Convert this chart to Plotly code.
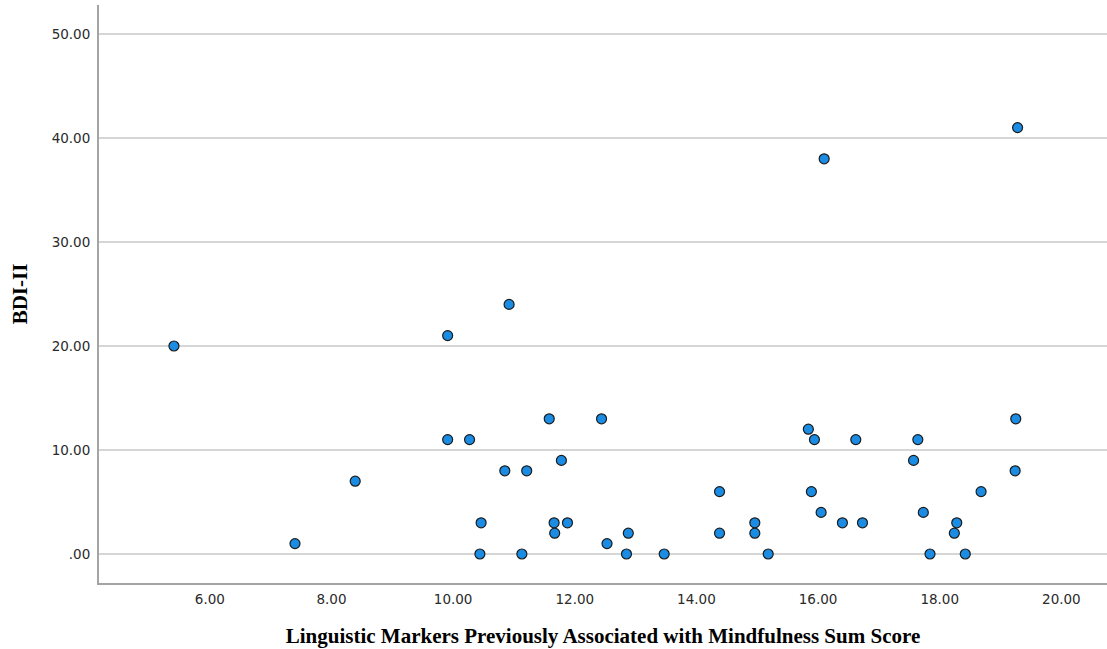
import plotly.graph_objects as go

mindfulness_score = [5.41, 7.40, 8.39, 9.91, 9.91, 10.27, 10.92, 11.58, 12.44, 11.78,
                     10.85, 11.21, 14.38, 10.46, 11.66, 11.88, 11.67, 12.88, 12.53, 10.44,
                     11.13, 12.85, 13.47, 14.38, 14.96, 14.96, 15.18, 15.84, 15.94, 16.62,
                     17.64, 17.57, 19.25, 19.24, 18.68, 15.89, 16.05, 17.73, 16.40, 16.73,
                     18.28, 18.24, 17.84, 18.42, 19.28, 16.10]
bdi_ii = [20, 1, 7, 21, 11, 11, 24, 13, 13, 9,
          8, 8, 6, 3, 3, 3, 2, 2, 1, 0,
          0, 0, 0, 2, 3, 2, 0, 12, 11, 11,
          11, 9, 13, 8, 6, 6, 4, 4, 3, 3,
          3, 2, 0, 0, 41, 38]

x_tickvals = [6, 8, 10, 12, 14, 16, 18, 20]
x_ticktext = ["6.00", "8.00", "10.00", "12.00", "14.00", "16.00", "18.00", "20.00"]
y_tickvals = [0, 10, 20, 30, 40, 50]
y_ticktext = [".00", "10.00", "20.00", "30.00", "40.00", "50.00"]

fig = go.Figure()
fig.add_trace(go.Scatter(
    x=mindfulness_score, y=bdi_ii, mode="markers",
    marker=dict(size=10, color="#1a8ce3", line=dict(color="#1c1c1c", width=1.2)),
    showlegend=False, hoverinfo="x+y"))

tick_font = dict(family="DejaVu Sans", size=13.5, color="#2a2a2a")
title_font = dict(family="Liberation Serif", size=21, color="#000000")

fig.update_layout(
    width=1107, height=649,
    margin=dict(l=99, r=0, t=5, b=66),
    paper_bgcolor="white", plot_bgcolor="white",
    xaxis=dict(
        range=[4.178, 20.75], tickvals=x_tickvals, ticktext=x_ticktext,
        showgrid=False, zeroline=False, showline=True, linecolor="#a4a4a4", linewidth=2,
        ticks="", tickfont=tick_font, ticklabelstandoff=3,
        title=dict(text="<b>Linguistic Markers Previously Associated with Mindfulness Sum Score</b>",
                   font=title_font, standoff=22),
    ),
    yaxis=dict(
        range=[-2.79, 52.79], tickvals=y_tickvals, ticktext=y_ticktext,
        showgrid=True, gridcolor="#d6d6d6", gridwidth=2, zeroline=False,
        showline=True, linecolor="#a4a4a4", linewidth=2,
        ticks="", tickfont=tick_font, ticklabelstandoff=4,
        title=dict(text="<b>BDI-II</b>", font=title_font, standoff=18),
    ),
)

fig.write_html("out.html")
